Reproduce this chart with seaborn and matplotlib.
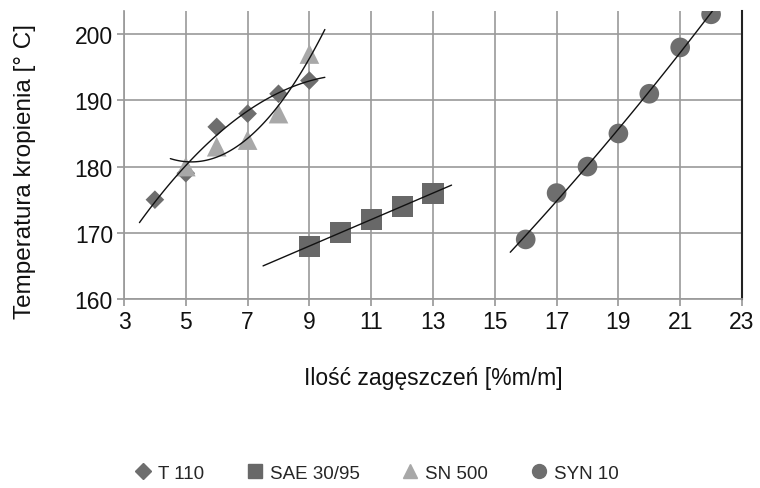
import numpy as np
import pandas as pd
import matplotlib
matplotlib.use("Agg")
import matplotlib.pyplot as plt
import seaborn as sns
from matplotlib.lines import Line2D

sns.set_theme(style="white")
plt.rcParams['font.family'] = ['Liberation Sans', 'DejaVu Sans']

# Data
t110_x = [4, 5, 6, 7, 8, 9]
t110_y = [175, 179, 186, 188, 191, 193]
sae_x = [9, 10, 11, 12, 13]
sae_y = [168, 170, 172, 174, 176]
sn_x = [5, 6, 7, 8, 9]
sn_y = [180, 183, 184, 188, 197]
syn_x = [16, 17, 18, 19, 20, 21, 22]
syn_y = [169, 176, 180, 185, 191, 198, 203]

series = ["T 110", "SAE 30/95", "SN 500", "SYN 10"]
xs = [t110_x, sae_x, sn_x, syn_x]
ys = [t110_y, sae_y, sn_y, syn_y]
markers = ["D", "s", "^", "o"]
colors = ["#6e6e6e", "#686868", "#a8a8a8", "#6e6e6e"]
sizes = [90, 230, 200, 200]
orders = [2, 1, 2, 2]
ext = [(0.5, 0.5), (1.5, 0.6), (0.5, 0.5), (0.5, 0.2)]

xticks = list(range(3, 24, 2))
yticks = [160, 170, 180, 190, 200]

fig = plt.figure(figsize=(7.6, 4.89), dpi=100)
ax = fig.add_axes([124/760, 1-300/489, (742-124)/760, (300-12)/489])

frames = []
for name, x, y in zip(series, xs, ys):
    frames.append(pd.DataFrame({"x": x, "y": y, "s": name}))
df = pd.concat(frames)

for name, x, y, m, c, sz, o, (e0, e1) in zip(series, xs, ys, markers, colors, sizes, orders, ext):
    coef = np.polyfit(x, y, o)
    xx = np.linspace(min(x) - e0, max(x) + e1, 100)
    yy = np.polyval(coef, xx)
    ax.plot(xx, yy, color="#111111", lw=1.0, zorder=4)

sns.scatterplot(data=df, x="x", y="y", hue="s", style="s",
                markers=dict(zip(series, markers)),
                palette=dict(zip(series, colors)),
                size="s", sizes=dict(zip(series, sizes)),
                edgecolor="none", legend=False, ax=ax, zorder=3)

ax.set_xlim(3, 23)
ax.set_ylim(160, 203.5)
ax.set_xticks(xticks)
ax.set_yticks(yticks)
ax.grid(True, color="#9a9a9a", lw=1.2)
ax.set_axisbelow(True)
ax.spines["top"].set_visible(False)
ax.spines["left"].set_color("#9a9a9a")
ax.spines["bottom"].set_color("#9a9a9a")
ax.spines["right"].set_color("#222222")
ax.spines["right"].set_linewidth(1.5)
ax.tick_params(axis="both", which="both", length=5, color="#9a9a9a",
               labelsize=16.5, labelcolor="#111111", direction="out",
               bottom=True, left=True, pad=3)
ax.set_xlabel("Ilość zagęszczeń [%m/m]", fontsize=16.5, color="#111111", labelpad=24)
ax.set_ylabel("Temperatura kropienia [° C]", fontsize=17.5, color="#111111")
ax.yaxis.set_label_coords(-0.142, (300-172)/288)

handles = [Line2D([], [], marker=m, color=c, linestyle="none", markersize=ms)
           for m, c, ms in zip(markers, colors, [8, 10, 10, 10])]
fig.legend(handles, series, loc="center", bbox_to_anchor=(0.495, 1-474/489),
           ncol=4, frameon=False, fontsize=13.5, handletextpad=0.3,
           columnspacing=2.2, handlelength=1.0)

fig.savefig("out.png", dpi=100)
